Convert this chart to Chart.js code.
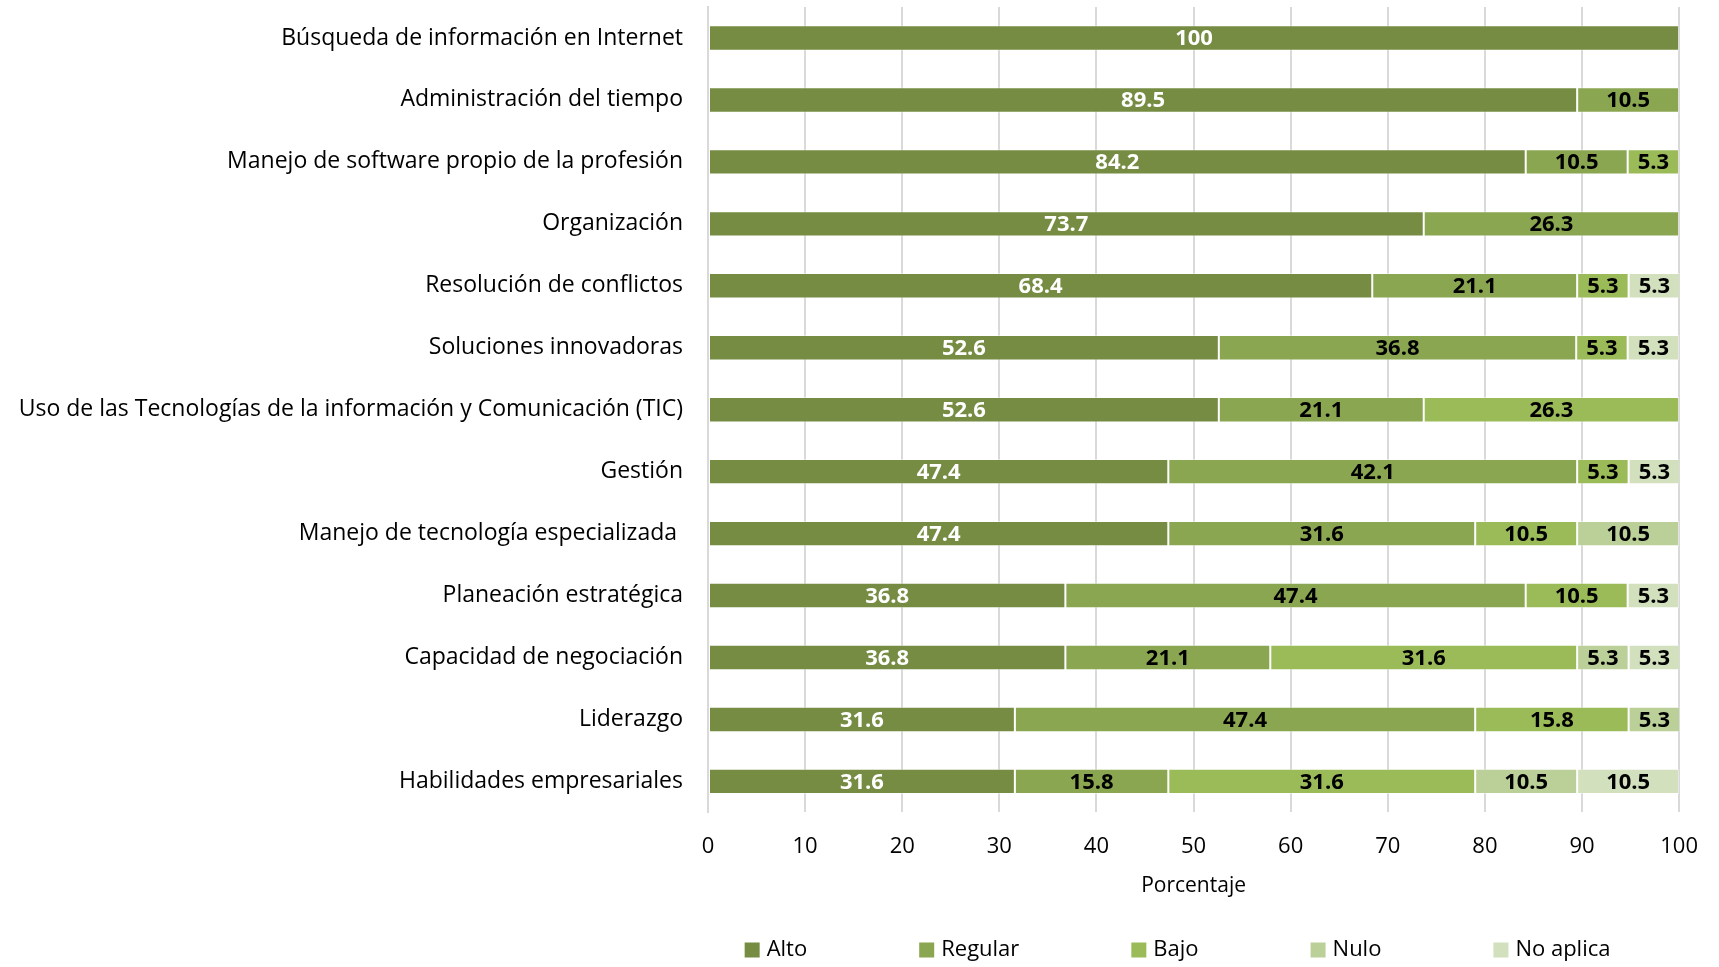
<!DOCTYPE html>
<html>
<head>
<meta charset="utf-8">
<script src="https://cdn.jsdelivr.net/npm/chart.js@4.4.0/dist/chart.umd.min.js"></script>
<style>
  html, body { margin: 0; padding: 0; background: #fff; }
  #wrap { width: 1719px; height: 967px; }
</style>
</head>
<body>
<div id="wrap"><canvas id="grafico"></canvas></div>
<script>
var categorias = [
    'Búsqueda de información en Internet',
    'Administración del tiempo',
    'Manejo de software propio de la profesión',
    'Organización',
    'Resolución de conflictos',
    'Soluciones innovadoras',
    'Uso de las Tecnologías de la información y Comunicación (TIC)',
    'Gestión',
    'Manejo de tecnología especializada ',
    'Planeación estratégica',
    'Capacidad de negociación',
    'Liderazgo',
    'Habilidades empresariales'
];

var alto     = [100, 89.5, 84.2, 73.7, 68.4, 52.6, 52.6, 47.4, 47.4, 36.8, 36.8, 31.6, 31.6];
var regular  = [null, 10.5, 10.5, 26.3, 21.1, 36.8, 21.1, 42.1, 31.6, 47.4, 21.1, 47.4, 15.8];
var bajo     = [null, null, 5.3, null, 5.3, 5.3, 26.3, 5.3, 10.5, 10.5, 31.6, 15.8, 31.6];
var nulo     = [null, null, null, null, null, null, null, null, 10.5, null, 5.3, 5.3, 10.5];
var noAplica = [null, null, null, null, 5.3, 5.3, null, 5.3, null, 5.3, 5.3, null, 10.5];

var ticksX = [0, 10, 20, 30, 40, 50, 60, 70, 80, 90, 100];

var fuente = '"Open Sans", Lato, sans-serif';

// etiquetas de datos dentro de las barras
const etiquetas = {
    id: 'etiquetas',
    afterDatasetsDraw(chart) {
        const ctx = chart.ctx;
        ctx.save();
        ctx.font = 'bold 22px ' + fuente;
        ctx.textAlign = 'center';
        ctx.textBaseline = 'middle';
        chart.data.datasets.forEach(function (ds, i) {
            const meta = chart.getDatasetMeta(i);
            meta.data.forEach(function (bar, j) {
                const v = ds.data[j];
                if (v === null || v === undefined) return;
                const x = (bar.x + bar.base) / 2;
                ctx.fillStyle = i === 0 ? '#ffffff' : '#000000';
                ctx.fillText(String(v), x, bar.y + 1);
            });
        });
        ctx.restore();
    }
};

// leyenda abajo, dibujada a mano para controlar el espaciado
const leyenda = {
    id: 'leyenda',
    afterDraw(chart) {
        const ctx = chart.ctx;
        const area = chart.chartArea;
        const caja = 15, hueco = 7, sep = 112;
        ctx.save();
        ctx.font = '22px ' + fuente;
        ctx.textBaseline = 'middle';
        const items = chart.data.datasets.map(function (ds) {
            return { texto: ds.label, color: ds.backgroundColor, ancho: ctx.measureText(ds.label).width };
        });
        let total = 0;
        items.forEach(function (it, k) {
            total += caja + hueco + it.ancho + (k < items.length - 1 ? sep : 0);
        });
        let x = (area.left + area.right) / 2 - total / 2 - 16;
        const y = chart.height - 17;
        items.forEach(function (it) {
            ctx.fillStyle = it.color;
            ctx.fillRect(x, y - caja / 2, caja, caja);
            ctx.fillStyle = '#000';
            ctx.fillText(it.texto, x + caja + hueco, y);
            x += caja + hueco + it.ancho + sep;
        });
        ctx.restore();
    }
};

const grafico = document.getElementById('grafico');

new Chart(grafico, {
    type: 'bar',
    data: {
        labels: categorias,
        datasets: [
            { label: 'Alto', data: alto, backgroundColor: '#758C42' },
            { label: 'Regular', data: regular, backgroundColor: '#8AA650' },
            { label: 'Bajo', data: bajo, backgroundColor: '#9BBB59' },
            { label: 'Nulo', data: nulo, backgroundColor: '#BBCF98' },
            { label: 'No aplica', data: noAplica, backgroundColor: '#D3E0BE' }
        ]
    },
    options: {
        indexAxis: 'y',
        responsive: true,
        maintainAspectRatio: false,
        animation: false,
        datasets: {
            bar: {
                barPercentage: 0.41,
                categoryPercentage: 1,
                borderWidth: 1,
                borderColor: 'rgba(255,255,255,0.45)',
                borderSkipped: false
            }
        },
        layout: {
            padding: { top: 7, right: 37, bottom: 68, left: 0 }
        },
        scales: {
            x: {
                stacked: true,
                min: 0,
                max: 100,
                afterBuildTicks(scale) {
                    scale.ticks = ticksX.map(function (v) { return { value: v }; });
                },
                grid: { color: '#d9d9d9', lineWidth: 2, drawTicks: false },
                border: { display: false },
                ticks: {
                    padding: 21,
                    color: '#000',
                    font: { family: fuente, size: 22 }
                },
                title: {
                    display: true,
                    text: 'Porcentaje',
                    color: '#000',
                    font: { family: fuente, size: 21 },
                    padding: { top: -7, bottom: 0 }
                }
            },
            y: {
                stacked: true,
                afterFit(scale) {
                    scale.width = 708;
                    scale.paddingTop = 0;
                    scale.paddingBottom = 0;
                },
                grid: { display: false, drawTicks: false },
                border: { display: true, color: '#d9d9d9', width: 2 },
                ticks: {
                    padding: 25,
                    color: '#000',
                    font: { family: fuente, size: 23 }
                }
            }
        },
        plugins: {
            legend: { display: false },
            tooltip: { enabled: false }
        }
    },
    plugins: [etiquetas, leyenda]
});
</script>
</body>
</html>
